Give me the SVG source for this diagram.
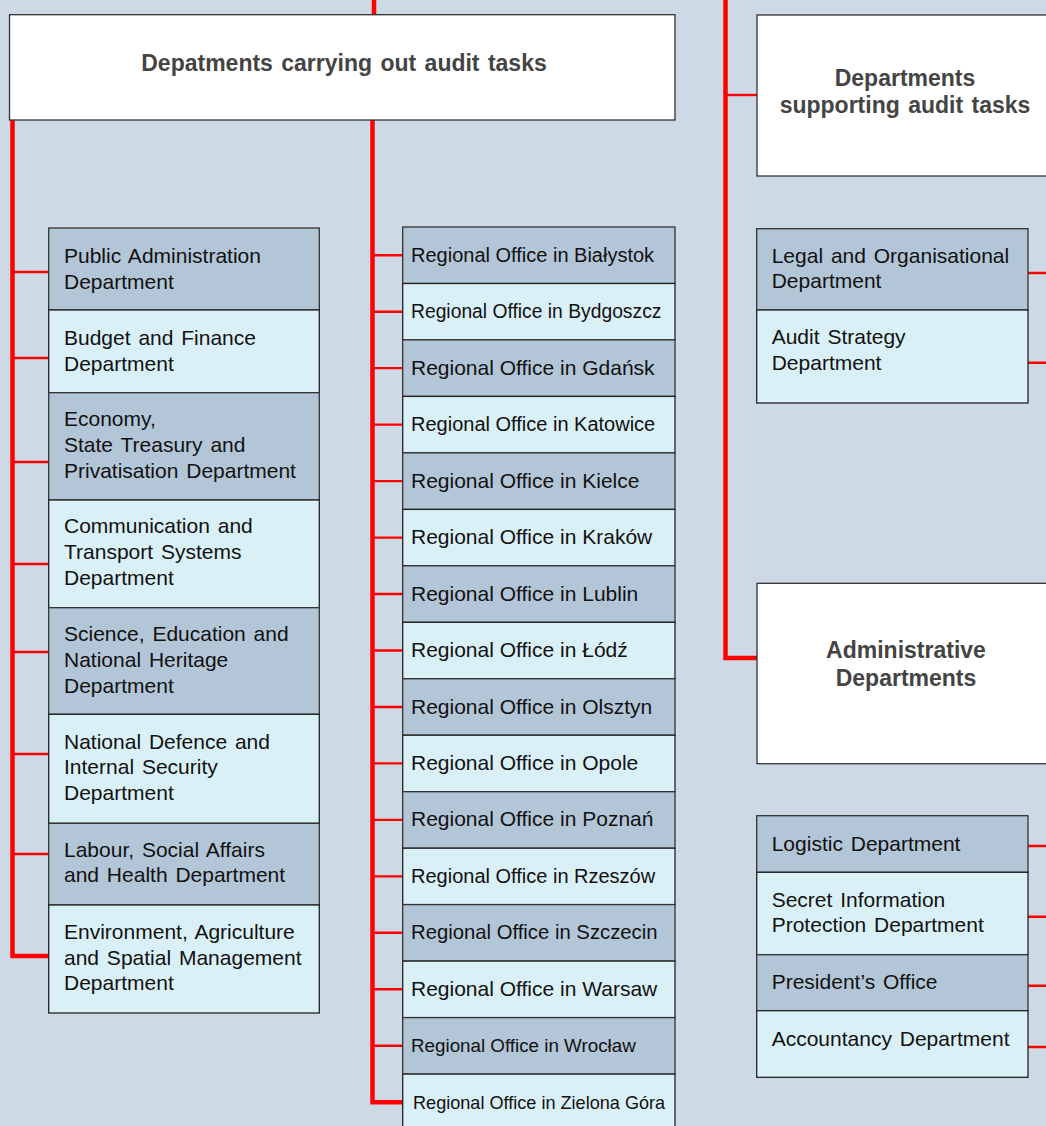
<svg xmlns="http://www.w3.org/2000/svg" width="1046" height="1126" viewBox="0 0 1046 1126">
<style>
.bg{fill:#CDDAE6}
.hdr{fill:#FFFFFF;stroke:#333;stroke-width:1.3}
.dk{fill:#B3C6D7;stroke:#333;stroke-width:1.3}
.lt{fill:#DAF0F7;stroke:#222;stroke-width:1.3}
.ht{font-family:"Liberation Sans",Arial,sans-serif;font-weight:bold;font-size:23px;fill:#444;text-anchor:middle;word-spacing:2px}
.t{font-family:"Liberation Sans",Arial,sans-serif;font-size:21px;fill:#111;word-spacing:2px}
.m{font-family:"Liberation Sans",Arial,sans-serif;fill:#111}
.thick{fill:none;stroke:#FF0000;stroke-width:4.5;stroke-linejoin:miter}
.thin{fill:none;stroke:#FF0000;stroke-width:2.4}
</style>
<rect class="bg" x="0" y="0" width="1046" height="1126"/>

<g id="connectors">
  <path class="thick" d="M374,0 V15"/>
  <path class="thick" d="M725.5,0 V658 H757"/>
  <path class="thin" d="M725.5,95 H757"/>
  <path class="thick" d="M12.5,120 V956 H49"/>
  <path class="thin" d="M12.5,272 H49 M12.5,358 H49 M12.5,462 H49 M12.5,564 H49 M12.5,652 H49 M12.5,754 H49 M12.5,854 H49"/>
  <path class="thick" d="M372.5,120 V1102.3 H403"/>
  <path class="thin" d="M372.5,255.2 H403 M372.5,311.7 H403 M372.5,368.1 H403 M372.5,424.6 H403 M372.5,481.1 H403 M372.5,537.6 H403 M372.5,594 H403 M372.5,650.5 H403 M372.5,707 H403 M372.5,763.4 H403 M372.5,819.9 H403 M372.5,876.4 H403 M372.5,932.8 H403 M372.5,989.3 H403 M372.5,1045.8 H403"/>
  <path class="thin" d="M1028,273 H1046 M1028,362.7 H1046 M1028,846 H1046 M1028,916.7 H1046 M1028,985.7 H1046 M1028,1047 H1046"/>
</g>

<g id="audit-tasks">
  <rect class="hdr" x="9.5" y="14.7" width="665.5" height="105.3"/>
  <text class="ht" x="344" y="71">Depatments carrying out audit tasks</text>
</g>
<g id="supporting">
  <rect class="hdr" x="757" y="15" width="305" height="161"/>
  <text class="ht" x="905" y="86">Departments</text>
  <text class="ht" x="905" y="113.3">supporting audit tasks</text>
</g>
<g id="administrative">
  <rect class="hdr" x="757" y="583.3" width="305" height="180.4"/>
  <text class="ht" x="906" y="657.7">Administrative</text>
  <text class="ht" x="906" y="686">Departments</text>
</g>

<g id="public-administration"><rect class="dk" x="48.7" y="228" width="270.6" height="82"/>
  <text class="t" x="64" y="263">Public Administration</text><text class="t" x="64" y="289">Department</text></g>
<g id="budget-finance"><rect class="lt" x="48.7" y="310" width="270.6" height="82.7"/>
  <text class="t" x="64" y="345">Budget and Finance</text><text class="t" x="64" y="370.7">Department</text></g>
<g id="economy"><rect class="dk" x="48.7" y="392.7" width="270.6" height="107.3"/>
  <text class="t" x="64" y="426">Economy,</text><text class="t" x="64" y="452.3">State Treasury and</text><text class="t" x="64" y="477.7">Privatisation Department</text></g>
<g id="communication"><rect class="lt" x="48.7" y="500" width="270.6" height="107.7"/>
  <text class="t" x="64" y="533.3">Communication and</text><text class="t" x="64" y="559">Transport Systems</text><text class="t" x="64" y="585">Department</text></g>
<g id="science"><rect class="dk" x="48.7" y="607.7" width="270.6" height="106.6"/>
  <text class="t" x="64" y="640.7">Science, Education and</text><text class="t" x="64" y="667.3">National Heritage</text><text class="t" x="64" y="693.3">Department</text></g>
<g id="national-defence"><rect class="lt" x="48.7" y="714.3" width="270.6" height="109"/>
  <text class="t" x="64" y="749.3">National Defence and</text><text class="t" x="64" y="774.3">Internal Security</text><text class="t" x="64" y="800">Department</text></g>
<g id="labour"><rect class="dk" x="48.7" y="823.3" width="270.6" height="81.7"/>
  <text class="t" x="64" y="856.7">Labour, Social Affairs</text><text class="t" x="64" y="882.3">and Health Department</text></g>
<g id="environment"><rect class="lt" x="48.7" y="905" width="270.6" height="108"/>
  <text class="t" x="64" y="939">Environment, Agriculture</text><text class="t" x="64" y="965">and Spatial Management</text><text class="t" x="64" y="990">Department</text></g>

<g id="ro-bialystok"><rect class="dk" x="402.7" y="227" width="272.3" height="56.5"/><text class="m" x="411" y="261.7" style="font-size:20px">Regional Office in Białystok</text></g>
<g id="ro-bydgoszcz"><rect class="lt" x="402.7" y="283.5" width="272.3" height="56.4"/><text class="m" x="411" y="318.2" style="font-size:19.3px">Regional Office in Bydgoszcz</text></g>
<g id="ro-gdansk"><rect class="dk" x="402.7" y="339.9" width="272.3" height="56.5"/><text class="m" x="411" y="374.6" style="font-size:21px">Regional Office in Gdańsk</text></g>
<g id="ro-katowice"><rect class="lt" x="402.7" y="396.4" width="272.3" height="56.5"/><text class="m" x="411" y="431.1" style="font-size:20px">Regional Office in Katowice</text></g>
<g id="ro-kielce"><rect class="dk" x="402.7" y="452.9" width="272.3" height="56.5"/><text class="m" x="411" y="487.6" style="font-size:21px">Regional Office in Kielce</text></g>
<g id="ro-krakow"><rect class="lt" x="402.7" y="509.4" width="272.3" height="56.4"/><text class="m" x="411" y="544.1" style="font-size:21px">Regional Office in Kraków</text></g>
<g id="ro-lublin"><rect class="dk" x="402.7" y="565.8" width="272.3" height="56.5"/><text class="m" x="411" y="600.5" style="font-size:21px">Regional Office in Lublin</text></g>
<g id="ro-lodz"><rect class="lt" x="402.7" y="622.3" width="272.3" height="56.5"/><text class="m" x="411" y="657" style="font-size:21px">Regional Office in Łódź</text></g>
<g id="ro-olsztyn"><rect class="dk" x="402.7" y="678.8" width="272.3" height="56.4"/><text class="m" x="411" y="713.5" style="font-size:21px">Regional Office in Olsztyn</text></g>
<g id="ro-opole"><rect class="lt" x="402.7" y="735.2" width="272.3" height="56.5"/><text class="m" x="411" y="769.9" style="font-size:21px">Regional Office in Opole</text></g>
<g id="ro-poznan"><rect class="dk" x="402.7" y="791.7" width="272.3" height="56.5"/><text class="m" x="411" y="826.4" style="font-size:21px">Regional Office in Poznań</text></g>
<g id="ro-rzeszow"><rect class="lt" x="402.7" y="848.2" width="272.3" height="56.4"/><text class="m" x="411" y="882.9" style="font-size:20px">Regional Office in Rzeszów</text></g>
<g id="ro-szczecin"><rect class="dk" x="402.7" y="904.6" width="272.3" height="56.5"/><text class="m" x="411" y="939.3" style="font-size:20.3px">Regional Office in Szczecin</text></g>
<g id="ro-warsaw"><rect class="lt" x="402.7" y="961.1" width="272.3" height="56.5"/><text class="m" x="411" y="995.8" style="font-size:21px">Regional Office in Warsaw</text></g>
<g id="ro-wroclaw"><rect class="dk" x="402.7" y="1017.6" width="272.3" height="56.5"/><text class="m" x="411" y="1052.3" style="font-size:18.8px">Regional Office in Wrocław</text></g>
<g id="ro-zielona-gora"><rect class="lt" x="402.7" y="1074.1" width="272.3" height="56.5"/><text class="m" x="413" y="1108.8" style="font-size:18.1px">Regional Office in Zielona Góra</text></g>

<g id="legal"><rect class="dk" x="756.7" y="228.7" width="271.3" height="81.3"/>
  <text class="t" x="771.7" y="262.7">Legal and Organisational</text><text class="t" x="771.7" y="288.3">Department</text></g>
<g id="audit-strategy"><rect class="lt" x="756.7" y="310" width="271.3" height="93"/>
  <text class="t" x="771.7" y="344.3">Audit Strategy</text><text class="t" x="771.7" y="370">Department</text></g>
<g id="logistic"><rect class="dk" x="756.7" y="815.7" width="271.3" height="56.6"/>
  <text class="t" x="771.7" y="850.7">Logistic Department</text></g>
<g id="secret-information"><rect class="lt" x="756.7" y="872.3" width="271.3" height="82.4"/>
  <text class="t" x="771.7" y="906.7">Secret Information</text><text class="t" x="771.7" y="932.3">Protection Department</text></g>
<g id="presidents-office"><rect class="dk" x="756.7" y="954.7" width="271.3" height="56"/>
  <text class="t" x="771.7" y="988.7">President’s Office</text></g>
<g id="accountancy"><rect class="lt" x="756.7" y="1010.7" width="271.3" height="66.6"/>
  <text class="t" x="771.7" y="1045.7">Accountancy Department</text></g>
</svg>
